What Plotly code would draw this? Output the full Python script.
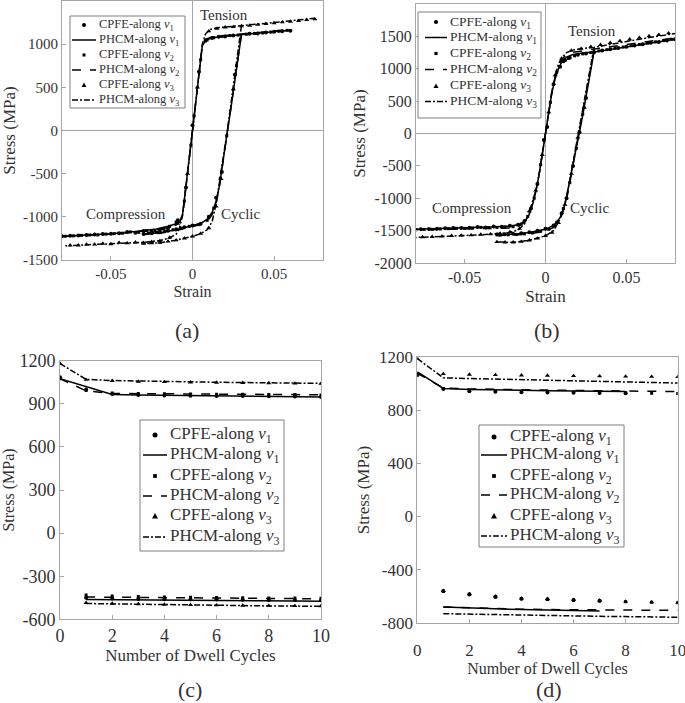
import plotly.graph_objects as go

# ---------------- Panel (a) : PHCM curves ----------------
A_V1_TEN_X = [0, 0.002, 0.004, 0.006, 0.008, 0.012, 0.02, 0.03, 0.04, 0.05, 0.06]
A_V1_TEN_Y = [0, 340, 680, 980, 1045, 1075, 1093, 1110, 1128, 1145, 1162]
A_V2_TEN_Y = [0, 340, 680, 985, 1055, 1085, 1100, 1115, 1133, 1150, 1168]
A_V3_TEN_X = [0, 0.002, 0.004, 0.006, 0.008, 0.011, 0.015, 0.02, 0.03, 0.04, 0.05, 0.06, 0.075]
A_V3_TEN_Y = [0, 340, 680, 1000, 1120, 1170, 1190, 1200, 1215, 1232, 1250, 1268, 1300]
A_V1_CMP_X = [0, -0.002, -0.004, -0.006, -0.0075, -0.01, -0.015, -0.022, -0.035, -0.05, -0.065, -0.08]
A_V1_CMP_Y = [0, -340, -680, -960, -1040, -1080, -1110, -1140, -1170, -1195, -1210, -1225]
A_V2_CMP_Y = [0, -340, -680, -965, -1050, -1095, -1125, -1150, -1175, -1200, -1215, -1228]
A_V3_CMP_X = [0, -0.002, -0.004, -0.006, -0.008, -0.01, -0.014, -0.02, -0.03, -0.05, -0.065, -0.078]
A_V3_CMP_Y = [0, -340, -680, -980, -1130, -1200, -1245, -1275, -1295, -1315, -1325, -1335]
A_CYC_X = [0.03, 0.0285, 0.026, 0.0235, 0.0215, 0.019, 0.0165, 0.0145, 0.012, 0.009, 0.005, 0, -0.01, -0.02, -0.03]
A_V1_CYC_Y = [1110, 900, 580, 250, 0, -330, -640, -820, -950, -1030, -1075, -1100, -1150, -1185, -1200]
A_V2_CYC_Y = [1115, 905, 585, 255, 5, -325, -650, -840, -975, -1050, -1090, -1112, -1158, -1190, -1205]
A_V3_CYC_Y = [1215, 990, 640, 300, 20, -300, -620, -850, -1060, -1150, -1195, -1225, -1270, -1300, -1310]

# ---------------- Panel (a) : CPFE points ----------------
A_C1_X = [0, 0.004, 0.008, 0.012, 0.016, 0.02, 0.025, 0.035, 0.04, 0.045, 0.05, 0.055, 0.06,
          -0.004, -0.009, -0.015, -0.02, -0.025, -0.03, -0.035, -0.04, -0.045, -0.05, -0.055, -0.06, -0.065, -0.07, -0.075, -0.08,
          0.026, 0.018, 0.0145, 0.01, 0.005, 0, -0.005, -0.01, -0.015, -0.02, -0.025, -0.03]
A_C1_Y = [60, 680, 1040, 1070, 1085, 1090, 1100, 1120, 1125, 1135, 1145, 1150, 1155,
          -660, -1040, -1130, -1150, -1170, -1165, -1185, -1175, -1190, -1195, -1200, -1205, -1210, -1215, -1220, -1225,
          650, -480, -780, -1000, -1080, -1100, -1120, -1145, -1160, -1180, -1190, -1200]
A_C2_X = [0.001, 0.005, 0.009, 0.013, 0.018, 0.023, 0.028, 0.033, 0.038, 0.043, 0.048, 0.053, 0.058,
          -0.001, -0.005, -0.01, -0.014, -0.018, -0.023, -0.028, -0.033, -0.038, -0.043, -0.048, -0.053, -0.058, -0.063, -0.068, -0.073, -0.078,
          0.027, 0.021, 0.017, 0.013, 0.009, 0.004, -0.002, -0.007, -0.012, -0.017, -0.022, -0.027]
A_C2_Y = [170, 820, 1050, 1075, 1090, 1100, 1105, 1115, 1125, 1130, 1140, 1150, 1160,
          -170, -820, -1060, -1110, -1140, -1165, -1160, -1180, -1175, -1190, -1195, -1200, -1210, -1210, -1215, -1220, -1225,
          750, -60, -560, -900, -1040, -1090, -1110, -1130, -1150, -1165, -1180, -1190]
A_C3_X = [0.003, 0.01, 0.015, 0.02, 0.025, 0.03, 0.035, 0.04, 0.045, 0.05, 0.055, 0.06, 0.065, 0.07, 0.075,
          -0.003, -0.009, -0.014, -0.02, -0.025, -0.03, -0.035, -0.04, -0.045, -0.05, -0.055, -0.06, -0.065, -0.07, -0.075,
          0.025, 0.0175, 0.0145, 0.01, 0.005, 0, -0.005, -0.01, -0.015, -0.02, -0.025, -0.03]
A_C3_Y = [500, 1150, 1180, 1195, 1200, 1210, 1215, 1225, 1235, 1245, 1255, 1262, 1270, 1280, 1290,
          -500, -1080, -1240, -1280, -1290, -1300, -1295, -1305, -1300, -1315, -1310, -1320, -1320, -1330, -1330,
          480, -560, -880, -1130, -1195, -1225, -1250, -1270, -1285, -1300, -1305, -1310]

# ---------------- Panel (b) : PHCM curves ----------------
B_TEN_X = [0, 0.002, 0.004, 0.006, 0.008, 0.01, 0.013, 0.017, 0.022, 0.03, 0.04, 0.05, 0.06, 0.07, 0.08]
B_V1_TEN_Y = [0, 330, 640, 850, 1000, 1100, 1180, 1220, 1240, 1260, 1300, 1340, 1380, 1415, 1455]
B_V2_TEN_Y = [0, 330, 650, 880, 1040, 1140, 1215, 1255, 1275, 1300, 1340, 1375, 1410, 1440, 1475]
B_V3_TEN_Y = [0, 330, 660, 900, 1070, 1170, 1250, 1290, 1310, 1330, 1380, 1420, 1465, 1505, 1545]
B_CMP_X = [0, -0.002, -0.004, -0.006, -0.008, -0.01, -0.013, -0.017, -0.022, -0.03, -0.04, -0.05, -0.06, -0.07, -0.08]
B_V1_CMP_Y = [0, -330, -640, -900, -1100, -1250, -1360, -1410, -1430, -1440, -1450, -1460, -1465, -1475, -1480]
B_V2_CMP_Y = [0, -330, -640, -890, -1070, -1220, -1370, -1440, -1460, -1465, -1470, -1475, -1480, -1485, -1490]
B_V3_CMP_Y = [0, -330, -640, -880, -1060, -1220, -1400, -1490, -1530, -1550, -1565, -1575, -1585, -1595, -1605]
B_CYC_X = [0.03, 0.028, 0.026, 0.024, 0.022, 0.02, 0.018, 0.016, 0.014, 0.012, 0.009, 0.005, 0, -0.01, -0.02, -0.03]
B_V1_CYC_Y = [1260, 1000, 700, 420, 150, -100, -380, -650, -900, -1100, -1300, -1420, -1480, -1530, -1555, -1560]
B_V2_CYC_Y = [1300, 1020, 720, 440, 170, -80, -360, -640, -900, -1120, -1330, -1450, -1510, -1550, -1570, -1575]
B_V3_CYC_Y = [1330, 1060, 760, 470, 200, -50, -330, -600, -860, -1080, -1320, -1500, -1580, -1650, -1680, -1675]

# ---------------- Panel (b) : CPFE points ----------------
B_C1_X = [0.001, 0.005, 0.009, 0.012, 0.015, 0.02, 0.025, 0.03, 0.035, 0.04, 0.045, 0.05, 0.055, 0.06, 0.065, 0.07, 0.075, 0.08,
          -0.001, -0.005, -0.009, -0.013, -0.017, -0.022, -0.027, -0.032, -0.037, -0.042, -0.047, -0.052, -0.057, -0.062, -0.067, -0.072, -0.077,
          0.025, 0.021, 0.017, 0.013, 0.01, 0.005, 0, -0.005, -0.01, -0.015, -0.02, -0.025, -0.03]
B_C1_Y = [100, 760, 1030, 1130, 1170, 1215, 1235, 1255, 1280, 1300, 1320, 1340, 1360, 1380, 1400, 1415, 1435, 1455,
          -100, -780, -1160, -1350, -1410, -1425, -1440, -1435, -1450, -1445, -1455, -1460, -1460, -1465, -1470, -1475, -1478,
          550, 20, -500, -1000, -1230, -1420, -1470, -1500, -1525, -1540, -1550, -1555, -1560]
B_C2_X = [0.003, 0.007, 0.011, 0.014, 0.018, 0.023, 0.028, 0.033, 0.038, 0.043, 0.048, 0.053, 0.058, 0.063, 0.068, 0.073, 0.078,
          -0.003, -0.007, -0.011, -0.015, -0.02, -0.025, -0.03, -0.035, -0.04, -0.045, -0.05, -0.055, -0.06, -0.065, -0.07, -0.075, -0.08,
          0.023, 0.019, 0.015, 0.011, 0.007, 0.002, -0.003, -0.008, -0.013, -0.018, -0.023, -0.028]
B_C2_Y = [480, 950, 1110, 1160, 1200, 1230, 1250, 1275, 1295, 1315, 1335, 1355, 1375, 1395, 1415, 1435, 1455,
          -480, -1000, -1280, -1400, -1440, -1445, -1450, -1455, -1450, -1460, -1465, -1465, -1470, -1475, -1480, -1482, -1488,
          300, -230, -760, -1160, -1370, -1480, -1510, -1535, -1550, -1560, -1565, -1570]
B_C3_X = [0.002, 0.006, 0.01, 0.016, 0.022, 0.028, 0.034, 0.04, 0.046, 0.052, 0.058, 0.064, 0.07, 0.076,
          -0.002, -0.006, -0.01, -0.016, -0.022, -0.028, -0.034, -0.04, -0.046, -0.052, -0.058, -0.064, -0.07, -0.076,
          0.024, 0.02, 0.016, 0.012, 0.008, 0.004, 0, -0.005, -0.01, -0.015, -0.02, -0.025, -0.03]
B_C3_Y = [330, 900, 1160, 1280, 1310, 1340, 1370, 1400, 1430, 1455, 1480, 1505, 1525, 1550,
          -330, -880, -1200, -1470, -1520, -1545, -1555, -1560, -1570, -1575, -1580, -1590, -1595, -1600,
          400, -60, -620, -1100, -1380, -1530, -1580, -1620, -1650, -1670, -1680, -1680, -1675]

# ---------------- Panel (c) ----------------
C_CYC = [0, 1, 2, 3, 4, 5, 6, 7, 8, 9, 10]
C_CYC_MIN = [1, 2, 3, 4, 5, 6, 7, 8, 9, 10]
C_V1_MAX = [1075, 1020, 965, 962, 960, 958, 956, 954, 952, 950, 948]
C_V2_MAX = [1075, 990, 972, 970, 969, 968, 967, 966, 965, 964, 963]
C_V3_MAX = [1180, 1070, 1062, 1058, 1055, 1052, 1050, 1048, 1046, 1044, 1042]
C_V1_MIN = [-462, -464, -466, -468, -469, -470, -471, -472, -473, -474]
C_V2_MIN = [-445, -447, -449, -451, -452, -453, -454, -455, -456, -457]
C_V3_MIN = [-490, -493, -496, -499, -501, -503, -505, -507, -508, -510]
C_C1_MAX = [1085, 1000, 968, 962, 958, 956, 955, 954, 952, 950, 948]
C_C2_MAX = [1075, 992, 976, 972, 970, 968, 967, 966, 965, 964, 962]
C_C3_MAX = [1180, 1068, 1060, 1055, 1052, 1050, 1048, 1046, 1044, 1042, 1040]
C_C1_MIN = [-450, -455, -458, -460, -462, -463, -464, -465, -466, -467]
C_C2_MIN = [-430, -437, -441, -444, -446, -448, -450, -451, -452, -453]
C_C3_MIN = [-485, -490, -494, -497, -500, -502, -504, -505, -507, -508]

# ---------------- Panel (d) ----------------
D_CYC8 = [0, 1, 2, 3, 4, 5, 6, 7, 8]
D_CYC10 = [0, 1, 2, 3, 4, 5, 6, 7, 8, 9, 10]
D_CYC_MIN7 = [1, 2, 3, 4, 5, 6, 7]
D_CYC_MIN10 = [1, 2, 3, 4, 5, 6, 7, 8, 9, 10]
D_V1_MAX = [1090, 965, 958, 953, 950, 948, 946, 944, 942]
D_V2_MAX = [1080, 968, 962, 958, 955, 952, 950, 948, 946, 944, 942]
D_V3_MAX = [1190, 1045, 1040, 1035, 1030, 1026, 1022, 1018, 1014, 1010, 1006]
D_V1_MIN = [-682, -690, -696, -701, -705, -709, -712]
D_V2_MIN = [-682, -689, -694, -698, -701, -703, -704, -705, -706, -707]
D_V3_MIN = [-732, -736, -740, -743, -746, -749, -752, -754, -757, -759]
D_C1_MAX = [1065, 962, 945, 940, 937, 935, 933, 931, 929]
D_C2_MAX = [1075, 965, 948, 943, 940, 938, 936, 934, 932, 930, 928]
D_C3_MAX = [1190, 1075, 1070, 1067, 1064, 1062, 1060, 1058, 1056, 1054, 1052]
D_C1_MIN = [-561, -586, -604, -619, -624, -629, -634]
D_C2_MIN = [-565, -590, -606, -620, -626, -631, -636, -642, -646, -650]
D_C3_MIN = [-560, -584, -602, -617, -622, -627, -633, -640, -645, -649]

# ---------------- Tick labels ----------------
AB_X_TICKS = [-0.05, 0, 0.05]
AB_X_LABELS = ["-0.05", "0", "0.05"]
A_Y_TICKS = [-1500, -1000, -500, 0, 500, 1000]
A_Y_LABELS = ["-1500", "-1000", "-500", "0", "500", "1000"]
B_Y_TICKS = [-2000, -1500, -1000, -500, 0, 500, 1000, 1500]
B_Y_LABELS = ["-2000", "-1500", "-1000", "-500", "0", "500", "1000", "1500"]
CD_X_TICKS = [0, 2, 4, 6, 8, 10]
C_Y_TICKS = [-600, -300, 0, 300, 600, 900, 1200]
C_Y_LABELS = ["-600", "-300", "0", "300", "600", "900", "1200"]
D_Y_TICKS = [-800, -400, 0, 400, 800, 1200]
D_Y_LABELS = ["-800", "-400", "0", "400", "800", "1200"]

NAMES_CPFE = ["CPFE-along <i>v</i><sub>1</sub>", "CPFE-along <i>v</i><sub>2</sub>", "CPFE-along <i>v</i><sub>3</sub>"]
NAMES_PHCM = ["PHCM-along <i>v</i><sub>1</sub>", "PHCM-along <i>v</i><sub>2</sub>", "PHCM-along <i>v</i><sub>3</sub>"]

FONT = "Liberation Serif"
DASHES = ["solid", "dash", "6px,2px,2px,2px"]
SYMBOLS = ["circle", "square", "triangle-up"]
SIZES = [4, 3, 4.5]
TXT = "#333333"
AXC = "#a6a6a6"
W, H = 685, 703

fig = go.Figure()


def join(*parts):
    xs = []
    for i, p in enumerate(parts):
        if i:
            xs.append(None)
        xs.extend(p)
    return xs


def add_group(axis_idx, cpfe_sets, phcm_sets):
    xa = "x" if axis_idx == 1 else f"x{axis_idx}"
    ya = "y" if axis_idx == 1 else f"y{axis_idx}"
    for k in range(3):
        cx, cy = cpfe_sets[k]
        fig.add_trace(go.Scatter(x=cx, y=cy, mode="markers", name=NAMES_CPFE[k],
                                 marker=dict(symbol=SYMBOLS[k], size=SIZES[k], color="black"),
                                 xaxis=xa, yaxis=ya, showlegend=False))
        px, py = phcm_sets[k]
        fig.add_trace(go.Scatter(x=px, y=py, mode="lines", name=NAMES_PHCM[k],
                                 line=dict(color="black", width=1.5, dash=DASHES[k]),
                                 xaxis=xa, yaxis=ya, showlegend=False, connectgaps=False))


add_group(1, [(A_C1_X, A_C1_Y), (A_C2_X, A_C2_Y), (A_C3_X, A_C3_Y)],
          [(join(A_V1_TEN_X, A_V1_CMP_X, A_CYC_X), join(A_V1_TEN_Y, A_V1_CMP_Y, A_V1_CYC_Y)),
           (join(A_V1_TEN_X, A_V1_CMP_X, A_CYC_X), join(A_V2_TEN_Y, A_V2_CMP_Y, A_V2_CYC_Y)),
           (join(A_V3_TEN_X, A_V3_CMP_X, A_CYC_X), join(A_V3_TEN_Y, A_V3_CMP_Y, A_V3_CYC_Y))])
add_group(2, [(B_C1_X, B_C1_Y), (B_C2_X, B_C2_Y), (B_C3_X, B_C3_Y)],
          [(join(B_TEN_X, B_CMP_X, B_CYC_X), join(B_V1_TEN_Y, B_V1_CMP_Y, B_V1_CYC_Y)),
           (join(B_TEN_X, B_CMP_X, B_CYC_X), join(B_V2_TEN_Y, B_V2_CMP_Y, B_V2_CYC_Y)),
           (join(B_TEN_X, B_CMP_X, B_CYC_X), join(B_V3_TEN_Y, B_V3_CMP_Y, B_V3_CYC_Y))])
add_group(3, [(join(C_CYC, C_CYC_MIN), join(C_C1_MAX, C_C1_MIN)),
              (join(C_CYC, C_CYC_MIN), join(C_C2_MAX, C_C2_MIN)),
              (join(C_CYC, C_CYC_MIN), join(C_C3_MAX, C_C3_MIN))],
          [(join(C_CYC, C_CYC_MIN), join(C_V1_MAX, C_V1_MIN)),
           (join(C_CYC, C_CYC_MIN), join(C_V2_MAX, C_V2_MIN)),
           (join(C_CYC, C_CYC_MIN), join(C_V3_MAX, C_V3_MIN))])
add_group(4, [(join(D_CYC8, D_CYC_MIN7), join(D_C1_MAX, D_C1_MIN)),
              (join(D_CYC10, D_CYC_MIN10), join(D_C2_MAX, D_C2_MIN)),
              (join(D_CYC10, D_CYC_MIN10), join(D_C3_MAX, D_C3_MIN))],
          [(join(D_CYC8, D_CYC_MIN7), join(D_V1_MAX, D_V1_MIN)),
           (join(D_CYC10, D_CYC_MIN10), join(D_V2_MAX, D_V2_MIN)),
           (join(D_CYC10, D_CYC_MIN10), join(D_V3_MAX, D_V3_MIN))])


def dx(a, b):
    return [a / W, b / W]


def dy(top, bottom):
    return [1 - bottom / H, 1 - top / H]


def axis(domain, rng, tv, tt, title, tsize, size, standoff, zero=False, anchor=None, tls=0):
    return dict(domain=domain, range=rng, tickvals=tv, ticktext=tt,
                showline=True, mirror=True, linecolor=AXC, linewidth=1,
                ticks="inside", ticklen=4, tickcolor=AXC, showgrid=False,
                zeroline=zero, zerolinecolor=AXC, zerolinewidth=1,
                tickfont=dict(family=FONT, size=tsize, color=TXT), ticklabelstandoff=tls,
                ticklabeloverflow="allow",
                title=dict(text=title, font=dict(family=FONT, size=size, color=TXT), standoff=standoff),
                automargin=False, anchor=anchor)


fig.update_layout(
    width=W, height=H, margin=dict(l=0, r=0, t=0, b=0),
    paper_bgcolor="white", plot_bgcolor="white",
    font=dict(family=FONT, color=TXT),
    showlegend=False,
    xaxis=axis(dx(62, 323), [-0.08, 0.08], AB_X_TICKS, AB_X_LABELS, "Strain", 15, 16, 4, True, "y"),
    yaxis=axis(dy(1, 260), [-1500, 1500], A_Y_TICKS, A_Y_LABELS, "Stress (MPa)", 15, 17, 4, True, "x"),
    xaxis2=axis(dx(416, 675), [-0.08, 0.08], AB_X_TICKS, AB_X_LABELS, "Strain", 16, 17, 4, True, "y2"),
    yaxis2=axis(dy(4, 263), [-2000, 2000], B_Y_TICKS, B_Y_LABELS, "Stress (MPa)", 16, 17, 4, True, "x2"),
    xaxis3=axis(dx(60, 321), [0, 10], CD_X_TICKS, [str(v) for v in CD_X_TICKS], "Number of Dwell Cycles", 18, 17, 2, False, "y3"),
    yaxis3=axis(dy(360.7, 619.3), [-600, 1200], C_Y_TICKS, C_Y_LABELS, "Stress (MPa)", 18, 16, 4, False, "x3"),
    xaxis4=axis(dx(417.3, 677.7), [0, 10], CD_X_TICKS, [str(v) for v in CD_X_TICKS], "Number of Dwell Cycles", 17, 16, 2, False, "y4", 12),
    yaxis4=axis(dy(357.3, 622.7), [-800, 1200], D_Y_TICKS, D_Y_LABELS, "Stress (MPa)", 17, 17, 4, False, "x4"),
)

# ---------------- Legends (boxes drawn in page pixels) ----------------
LEGENDS = [
    dict(box=(70, 16, 185, 108), rows=[25, 40, 55, 70, 85, 100], line=(72, 96), mark=84, text=97, size=12.5, ms=1.0),
    dict(box=(418, 12, 541, 118), rows=[22, 37.5, 53.5, 69.5, 86, 101.5], line=(425, 447), mark=436, text=448, size=13.5, ms=1.05),
    dict(box=(140, 420, 284, 551), rows=[435, 455, 476, 496, 516, 537], line=(143, 167), mark=155, text=168, size=17, ms=1.25),
    dict(box=(479, 425, 624, 547), rows=[437, 455, 476, 495, 516, 536], line=(481, 507), mark=494, text=508, size=17, ms=1.25),
]


def px2paper(x, y):
    return x / W, 1 - y / H


for L in LEGENDS:
    bx0, by0, bx1, by1 = L["box"]
    x0, y1 = px2paper(bx0, by0)
    x1, y0 = px2paper(bx1, by1)
    fig.add_shape(type="rect", xref="paper", yref="paper", x0=x0, x1=x1, y0=y0, y1=y1,
                  line=dict(color="#7f7f7f", width=1), fillcolor="white", layer="above")
    labels = [NAMES_CPFE[0], NAMES_PHCM[0], NAMES_CPFE[1], NAMES_PHCM[1], NAMES_CPFE[2], NAMES_PHCM[2]]
    for i, lab in enumerate(labels):
        ry = L["rows"][i]
        k = i // 2
        if i % 2 == 1:
            lx0, ly = px2paper(L["line"][0], ry)
            lx1, _ = px2paper(L["line"][1], ry)
            fig.add_shape(type="line", xref="paper", yref="paper", x0=lx0, x1=lx1, y0=ly, y1=ly,
                          line=dict(color="black", width=1.5, dash=DASHES[k]), layer="above")
        else:
            mx = L["mark"]
            s = L["ms"]
            if k == 0:
                r = 2.0 * s
                a0, b1 = px2paper(mx - r, ry - r)
                a1, b0 = px2paper(mx + r, ry + r)
                fig.add_shape(type="circle", xref="paper", yref="paper", x0=a0, x1=a1, y0=b0, y1=b1,
                              fillcolor="black", line=dict(width=0), layer="above")
            elif k == 1:
                r = 1.5 * s
                a0, b1 = px2paper(mx - r, ry - r)
                a1, b0 = px2paper(mx + r, ry + r)
                fig.add_shape(type="rect", xref="paper", yref="paper", x0=a0, x1=a1, y0=b0, y1=b1,
                              fillcolor="black", line=dict(width=0), layer="above")
            else:
                r = 2.4 * s
                pa = px2paper(mx, ry - r)
                pb = px2paper(mx - r, ry + r * 0.8)
                pc = px2paper(mx + r, ry + r * 0.8)
                fig.add_shape(type="path", xref="paper", yref="paper",
                              path=f"M {pa[0]},{pa[1]} L {pb[0]},{pb[1]} L {pc[0]},{pc[1]} Z",
                              fillcolor="black", line=dict(width=0), layer="above")
        tx, ty = px2paper(L["text"], ry)
        fig.add_annotation(x=tx, y=ty, xref="paper", yref="paper", text=lab, showarrow=False,
                           xanchor="left", yanchor="middle", font=dict(family=FONT, size=L["size"], color=TXT))

ann_font = dict(family=FONT, size=15, color=TXT)
fig.add_annotation(x=0.0196, y=1335, xref="x", yref="y", text="Tension", showarrow=False, font=ann_font)
fig.add_annotation(x=-0.041, y=-963, xref="x", yref="y", text="Compression", showarrow=False, font=ann_font)
fig.add_annotation(x=0.0294, y=-963, xref="x", yref="y", text="Cyclic", showarrow=False, font=ann_font)
fig.add_annotation(x=0.029, y=1583, xref="x2", yref="y2", text="Tension", showarrow=False, font=ann_font)
fig.add_annotation(x=-0.0455, y=-1158, xref="x2", yref="y2", text="Compression", showarrow=False, font=ann_font)
fig.add_annotation(x=0.0274, y=-1158, xref="x2", yref="y2", text="Cyclic", showarrow=False, font=ann_font)

lab_font = dict(family=FONT, size=22, color=TXT)
for txt, xp, yp in [("(a)", 187, 330), ("(b)", 547, 330), ("(c)", 190, 689), ("(d)", 549, 689)]:
    fig.add_annotation(x=xp / W, y=1 - yp / H, xref="paper", yref="paper", text=txt,
                       showarrow=False, font=lab_font, xanchor="center", yanchor="middle")

fig.write_html("out.html", config={"displayModeBar": False},
               post_script="document.body.style.margin='0px';document.body.style.padding='0px';")
